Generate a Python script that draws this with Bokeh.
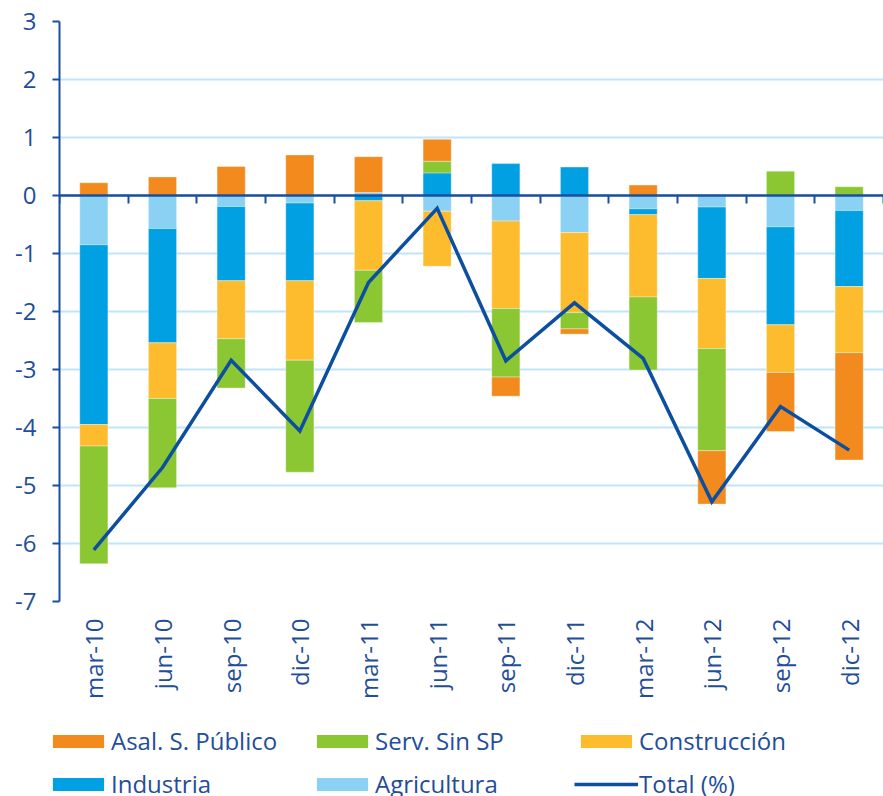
import numpy as np
from math import pi
from bokeh.plotting import figure
from bokeh.layouts import column
from bokeh.models import (Range1d, LinearAxis, FixedTicker, Legend, LegendItem, Label)
from bokeh.embed import file_html
from bokeh.resources import INLINE

categories = ["mar-10", "jun-10", "sep-10", "dic-10", "mar-11", "jun-11",
              "sep-11", "dic-11", "mar-12", "jun-12", "sep-12", "dic-12"]
agricultura = [-0.85, -0.57, -0.19, -0.13, 0.05, -0.27, -0.44, -0.64, -0.23, -0.20, -0.54, -0.26]
industria = [-3.10, -1.97, -1.28, -1.34, -0.09, 0.39, 0.55, 0.49, -0.10, -1.23, -1.69, -1.31]
construccion = [-0.37, -0.96, -1.00, -1.37, -1.20, -0.95, -1.51, -1.38, -1.42, -1.21, -0.82, -1.14]
serv_sin_sp = [-2.03, -1.54, -0.85, -1.93, -0.90, 0.20, -1.18, -0.28, -1.26, -1.76, 0.42, 0.15]
asal_publico = [0.22, 0.32, 0.50, 0.70, 0.62, 0.38, -0.33, -0.09, 0.18, -0.92, -1.02, -1.85]
total = [-6.11, -4.69, -2.84, -4.06, -1.50, -0.22, -2.85, -1.85, -2.81, -5.28, -3.64, -4.39]
y_ticks = [-7, -6, -5, -4, -3, -2, -1, 0, 1, 2, 3]
source_note = "Fuente: BBVA Research a partir de INE y MINHAP"

FONT = "Open Sans"
TEXT = "#1F4E9A"
AXIS = "#1A4E9E"
GRID = "#BFE6F8"
LINE = "#0C4EA0"

n = len(categories)
xc = [i + 0.5 for i in range(n)]  # category centres on a numeric axis

series = [
    ("Agricultura", agricultura, "#8AD1F3"),
    ("Industria", industria, "#00A0E3"),
    ("Construcción", construccion, "#FDBC2E"),
    ("Serv. Sin SP", serv_sin_sp, "#8AC732"),
    ("Asal. S. Público", asal_publico, "#F28A1E"),
]

# ---------------- main chart ----------------
p = figure(x_range=Range1d(0, n), y_range=Range1d(-7, 3),
           width=883, height=715, output_backend="svg", toolbar_location=None,
           min_border_left=59, min_border_right=0, min_border_top=21,
           min_border_bottom=114)
p.frame_align = False
p.outline_line_color = None
p.background_fill_color = "white"

p.xgrid.visible = False
p.ygrid.ticker = FixedTicker(ticks=y_ticks)
p.ygrid.grid_line_color = GRID
p.ygrid.grid_line_width = 2

# legend strip below the chart (its own figure, data kept out of view)
lg = figure(x_range=Range1d(0, n), y_range=Range1d(10, 11),
            width=883, height=81, output_backend="svg", toolbar_location=None,
            min_border=0, min_border_left=0, min_border_right=0,
            min_border_top=0, min_border_bottom=0,
            x_axis_location=None, y_axis_location=None)
lg.frame_align = False
lg.outline_line_color = None
lg.grid.visible = False

pos = np.zeros(n)
neg = np.zeros(n)
leg_rends = {}
for name, vals, color in series:
    v = np.array(vals, dtype=float)
    bottom = np.where(v >= 0, pos, neg)
    top = bottom + v
    pos = np.where(v >= 0, top, pos)
    neg = np.where(v < 0, top, neg)
    p.vbar(x=xc, bottom=bottom, top=top, width=0.41,
           fill_color=color, line_color="white", line_alpha=0.35, line_width=1)
    leg_rends[name] = lg.vbar(x=xc, bottom=bottom, top=top, width=0.41,
                              fill_color=color, line_color=None)

p.line(x=xc, y=total, line_color=LINE, line_width=3.5, line_join="miter")
leg_line = lg.line(x=xc, y=total, line_color=LINE, line_width=3.5)

# y axis
p.yaxis.ticker = FixedTicker(ticks=y_ticks)
p.yaxis.major_label_overrides = {t: str(t) for t in y_ticks}
p.yaxis.axis_line_color = AXIS
p.yaxis.axis_line_width = 2
p.yaxis.major_tick_line_color = AXIS
p.yaxis.major_tick_line_width = 2
p.yaxis.major_tick_in = 0
p.yaxis.major_tick_out = 7
p.yaxis.minor_tick_line_color = None
p.yaxis.major_label_standoff = 16
p.yaxis.major_label_text_font = FONT
p.yaxis.major_label_text_font_size = "24px"
p.yaxis.major_label_text_color = TEXT

# category label axis
p.xaxis.ticker = FixedTicker(ticks=xc)
p.xaxis.major_label_overrides = {x: c for x, c in zip(xc, categories)}
p.xaxis.axis_line_color = None
p.xaxis.major_tick_line_color = None
p.xaxis.minor_tick_line_color = None
p.xaxis.major_tick_out = 0
p.xaxis.major_tick_in = 0
p.xaxis.major_label_orientation = pi / 2
p.xaxis.major_label_standoff = 17
p.xaxis.major_label_text_font = FONT
p.xaxis.major_label_text_font_size = "24px"
p.xaxis.major_label_text_color = TEXT

# zero line axis with ticks at the category boundaries
bticks = list(range(n + 1))
zero_axis = LinearAxis(ticker=FixedTicker(ticks=bticks),
                       major_label_overrides={t: "" for t in bticks},
                       major_label_text_font_size="2px",
                       fixed_location=0,
                       axis_line_color=AXIS, axis_line_width=2.5,
                       major_tick_line_color=AXIS, major_tick_line_width=2,
                       major_tick_in=0, major_tick_out=8,
                       major_label_standoff=0,
                       minor_tick_line_color=None)
p.add_layout(zero_axis, "below")

# source note (cut off at the top, as in the original)
p.add_layout(Label(x=-0.86, y=3.29, text=source_note,
                   text_font=FONT, text_font_size="17px",
                   text_color=TEXT, text_baseline="bottom"))

legend = Legend(items=[
    LegendItem(label="Asal. S. Público", renderers=[leg_rends["Asal. S. Público"]]),
    LegendItem(label="Serv. Sin SP", renderers=[leg_rends["Serv. Sin SP"]]),
    LegendItem(label="Construcción", renderers=[leg_rends["Construcción"]]),
    LegendItem(label="Industria", renderers=[leg_rends["Industria"]]),
    LegendItem(label="Agricultura", renderers=[leg_rends["Agricultura"]]),
    LegendItem(label="Total (%)", renderers=[leg_line]),
], orientation="horizontal", ncols=3, location=(46, -4))
legend.border_line_color = None
legend.background_fill_alpha = 0
legend.padding = 0
legend.margin = 0
legend.spacing = 10
legend.glyph_width = 64
legend.glyph_height = 16
legend.label_standoff = 1
legend.label_width = 189
legend.label_height = 30
legend.label_text_font = FONT
legend.label_text_font_size = "24px"
legend.label_text_color = TEXT
lg.add_layout(legend, "center")

open("out.html", "w").write(file_html(column(p, lg, spacing=0), INLINE))
